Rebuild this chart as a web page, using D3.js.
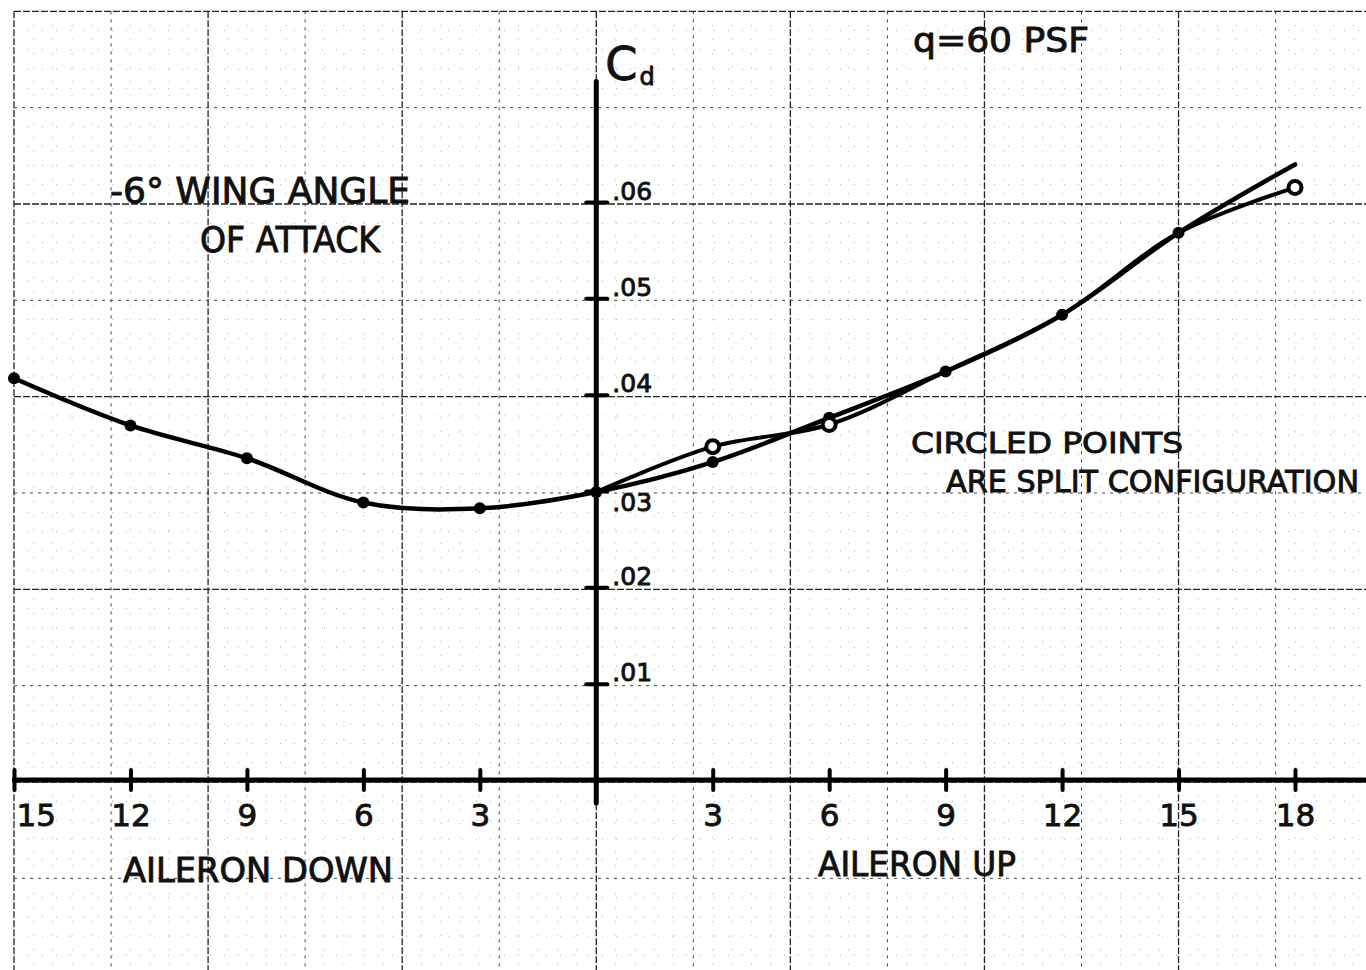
<!DOCTYPE html>
<html>
<head>
<meta charset="utf-8">
<script src="https://cdn.jsdelivr.net/npm/d3@7"></script>
<style>
  body { margin: 0; background: #fff; }
  svg { display: block; }
  text { font-family: "DejaVu Sans", sans-serif; fill: #111; stroke: #111; stroke-width: 0.9px; }
</style>
</head>
<body>
<svg class="cd"></svg>
<script>
// aileron deflection in degrees, negative = aileron down
var mainDeg = [-15, -12, -9, -6, -3, 0, 3, 6, 9, 12, 15, 18];
var mainCd  = [0.0417, 0.0368, 0.0334, 0.0288, 0.0282, 0.0299, 0.0330, 0.0376, 0.0424, 0.0483, 0.0568, 0.0639];

// split configuration (circled points)
var splitDeg = [0, 3, 6, 9, 12, 15, 18];
var splitCd  = [0.0299, 0.0346, 0.0369, 0.0424, 0.0483, 0.0568, 0.0615];

var xTicks = [-15, -12, -9, -6, -3, 3, 6, 9, 12, 15, 18];
var xTickLabels = ["15", "12", "9", "6", "3", "3", "6", "9", "12", "15", "18"];
var yTicks = [0.01, 0.02, 0.03, 0.04, 0.05, 0.06];
var yTickLabels = [".01", ".02", ".03", ".04", ".05", ".06"];

var width = 1366, height = 970;

var svg = d3.select(".cd")
    .attr("width", width)
    .attr("height", height);

svg.append("rect")
    .attr("width", width)
    .attr("height", height)
    .attr("fill", "#fff");

var x = d3.scaleLinear().domain([-15, 18]).range([14, 1295]);
var y = d3.scaleLinear().domain([0, 0.06]).range([780, 202]);

var xMin = -15, xMax = x.invert(width);
var yTop = 0.08, yBot = y.invert(height);

// graph paper
var grid = svg.append("g").attr("class", "grid");

var vLines = d3.range(Math.round(xMin * 2), Math.floor(xMax * 2) + 1);
grid.selectAll("line.v")
    .data(vLines)
  .enter().append("line")
    .attr("class", "v")
    .attr("x1", function(k) { return x(k / 2); })
    .attr("x2", function(k) { return x(k / 2); })
    .attr("y1", y(yTop) + 2)
    .attr("y2", height)
    .each(gridStyle);

var hLines = d3.range(Math.ceil(yBot * 500), Math.round(yTop * 500) + 1);
grid.selectAll("line.h")
    .data(hLines)
  .enter().append("line")
    .attr("class", "h")
    .attr("x1", x(xMin))
    .attr("x2", width)
    .attr("y1", function(k) { return y(k / 500) + 2; })
    .attr("y2", function(k) { return y(k / 500) + 2; })
    .each(gridStyle);

function gridStyle(k) {
  var s = d3.select(this);
  if (k % 10 == 0) {
    s.attr("stroke", "#222").attr("stroke-width", 1.3).attr("stroke-dasharray", "7,2");
  } else if (k % 5 == 0) {
    s.attr("stroke", "#444").attr("stroke-width", 1).attr("stroke-dasharray", "3,5");
  } else {
    s.attr("stroke", "#aaa").attr("stroke-width", 1).attr("stroke-dasharray", "1,13");
  }
}

// axes
svg.append("line")
    .attr("x1", x(xMin) - 2).attr("x2", width)
    .attr("y1", y(0)).attr("y2", y(0))
    .attr("stroke", "#000").attr("stroke-width", 5);

svg.append("line")
    .attr("x1", x(0)).attr("x2", x(0))
    .attr("y1", y(0.0725)).attr("y2", y(-0.0024))
    .attr("stroke", "#000").attr("stroke-width", 5)
    .attr("stroke-linecap", "round");

var xAxis = d3.axisBottom(x)
    .tickValues(xTicks)
    .tickFormat(function(d, i) { return xTickLabels[i]; })
    .tickSize(10);

var gx = svg.append("g")
    .attr("class", "x axis")
    .attr("transform", "translate(0," + y(0) + ")")
    .call(xAxis);

gx.select(".domain").remove();
gx.selectAll("line")
    .attr("y1", -10).attr("y2", 10)
    .attr("stroke", "#000").attr("stroke-width", 4)
    .attr("stroke-linecap", "round");
gx.selectAll("text")
    .attr("y", 46).attr("dy", 0)
    .attr("font-family", "DejaVu Sans")
    .attr("font-size", 31)
    .attr("fill", "#111");
gx.selectAll("text").filter(function(d) { return d == xMin; })
    .attr("text-anchor", "start").attr("x", 2);

var yAxis = d3.axisLeft(y)
    .tickValues(yTicks)
    .tickFormat(function(d, i) { return yTickLabels[i]; })
    .tickSize(10);

var gy = svg.append("g")
    .attr("class", "y axis")
    .attr("transform", "translate(" + x(0) + ",0)")
    .call(yAxis);

gy.select(".domain").remove();
gy.selectAll("line")
    .attr("x1", -10).attr("x2", 11)
    .attr("stroke", "#000").attr("stroke-width", 4)
    .attr("stroke-linecap", "round");
gy.selectAll("text")
    .attr("text-anchor", "start")
    .attr("x", 16).attr("dy", 0)
    .attr("y", function(d) { return d == 0.03 ? 19 : -3; })
    .attr("font-family", "DejaVu Sans")
    .attr("font-size", 25)
    .attr("fill", "#111");

// curves
var line = d3.line()
    .x(function(d) { return x(d[0]); })
    .y(function(d) { return y(d[1]); })
    .curve(d3.curveCatmullRom.alpha(0.5));

var mainData = d3.zip(mainDeg, mainCd);
var splitData = d3.zip(splitDeg, splitCd);

svg.append("path")
    .datum(splitData)
    .attr("fill", "none")
    .attr("stroke", "#000")
    .attr("stroke-width", 4)
    .attr("stroke-linecap", "round")
    .attr("d", line);

svg.append("path")
    .datum(mainData)
    .attr("fill", "none")
    .attr("stroke", "#000")
    .attr("stroke-width", 4.5)
    .attr("stroke-linecap", "round")
    .attr("d", line);

svg.selectAll("circle.pt")
    .data(mainData.slice(0, -1))
  .enter().append("circle")
    .attr("class", "pt")
    .attr("cx", function(d) { return x(d[0]); })
    .attr("cy", function(d) { return y(d[1]); })
    .attr("r", 6)
    .attr("fill", "#000");

// circled points: only where the split run differs from the plain one
var circled = splitData.filter(function(d) {
  var i = mainDeg.indexOf(d[0]);
  return i < 0 || mainCd[i] != d[1];
});

svg.selectAll("circle.split")
    .data(circled)
  .enter().append("circle")
    .attr("class", "split")
    .attr("cx", function(d) { return x(d[0]); })
    .attr("cy", function(d) { return y(d[1]); })
    .attr("r", 6.5)
    .attr("fill", "#fff")
    .attr("stroke", "#000")
    .attr("stroke-width", 4);

// lettering
function label(txt, px, py, size, len) {
  svg.append("text")
      .attr("x", px).attr("y", py)
      .attr("font-size", size)
      .attr("textLength", len)
      .attr("lengthAdjust", "spacingAndGlyphs")
      .text(txt);
}

label("-6° WING ANGLE", 110, 203, 35, 300);
label("OF ATTACK", 200, 252, 35, 180);
label("q=60 PSF", 913, 52, 33, 176);
label("CIRCLED  POINTS", 911, 453, 29, 272);
label("ARE SPLIT CONFIGURATION", 946, 492, 30, 413);
label("AILERON  DOWN", 123, 882, 33, 270);
label("AILERON UP", 818, 876, 33, 198);

svg.append("text")
    .attr("x", x(0) + 9).attr("y", 80)
    .attr("font-size", 46)
    .text("C")
  .append("tspan")
    .attr("font-size", 24)
    .attr("dx", 2).attr("dy", 5)
    .text("d");
</script>
</body>
</html>
